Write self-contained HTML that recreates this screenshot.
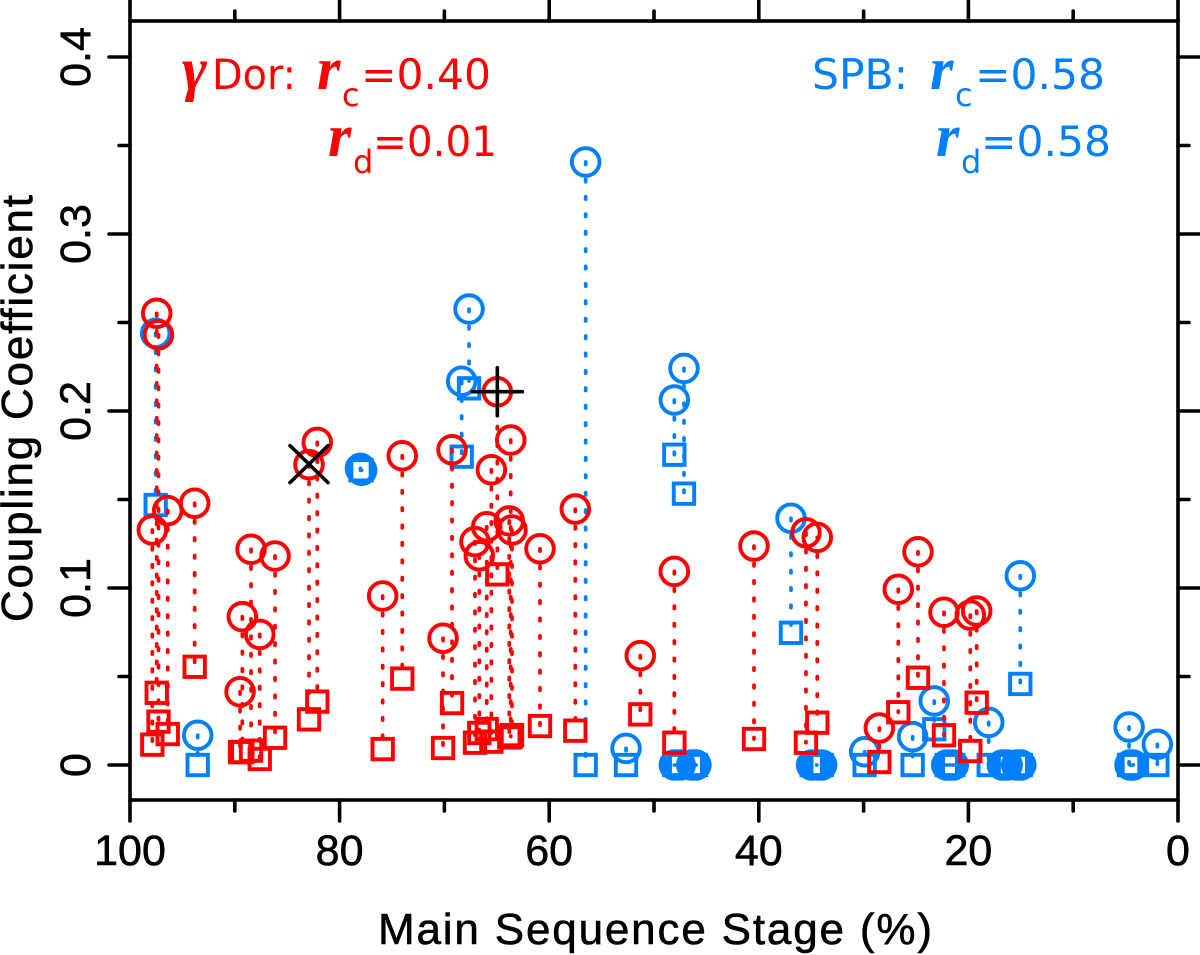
<!DOCTYPE html>
<html lang="en">
<head>
<meta charset="utf-8">
<title>Coupling Coefficient vs Main Sequence Stage</title>
<style>
html,body{margin:0;padding:0;background:#fff;}
svg{display:block;}
text{font-family:"Liberation Sans",sans-serif;}
.rv{font-family:"Liberation Serif",serif;font-style:italic;font-weight:bold;}
.dv{font-family:"DejaVu Sans",sans-serif;}
</style>
</head>
<body>
<svg id="chart" xmlns="http://www.w3.org/2000/svg" width="1200" height="955" viewBox="0 0 1200 955">
  <rect x="0" y="0" width="1200" height="955" fill="#ffffff"/>
  <g id="series"></g>
  <g id="axes"></g>
  <text x="378" y="944" font-size="44" textLength="554" lengthAdjust="spacing" fill="#000" stroke="#000" stroke-width="0.6">Main Sequence Stage (%)</text>
  <text transform="translate(32,622) rotate(-90)" font-size="44" textLength="427" lengthAdjust="spacing" fill="#000" stroke="#000" stroke-width="0.6">Coupling Coefficient</text>

  <g fill="#ff0000">
    <text class="rv" x="182" y="89" font-size="60">γ</text>
    <text class="dv" x="212" y="89" font-size="42" textLength="84" lengthAdjust="spacingAndGlyphs">Dor:</text>
    <text class="rv" x="317" y="89" font-size="60">r</text>
    <text class="dv" x="342" y="106" font-size="32">c</text>
    <text class="dv" x="361" y="89" font-size="42" textLength="130" lengthAdjust="spacingAndGlyphs">=0.40</text>
    <text class="rv" x="328" y="156" font-size="60">r</text>
    <text class="dv" x="353" y="173" font-size="32">d</text>
    <text class="dv" x="373" y="156" font-size="42" textLength="124" lengthAdjust="spacingAndGlyphs">=0.01</text>
  </g>
  <g fill="#0080ff">
    <text class="dv" x="812" y="89" font-size="42" textLength="96" lengthAdjust="spacingAndGlyphs">SPB:</text>
    <text class="rv" x="930" y="89" font-size="60">r</text>
    <text class="dv" x="955" y="106" font-size="32">c</text>
    <text class="dv" x="975" y="89" font-size="42" textLength="130" lengthAdjust="spacingAndGlyphs">=0.58</text>
    <text class="rv" x="936" y="156" font-size="60">r</text>
    <text class="dv" x="961" y="173" font-size="32">d</text>
    <text class="dv" x="981" y="156" font-size="42" textLength="130" lengthAdjust="spacingAndGlyphs">=0.58</text>
  </g>
</svg>
<script>
// Main-sequence stage (%), circle value (rc), square value (rd)
var redStage = [97.45,97.28,97.87,96.40,93.83,88.45,86.16,89.28,87.62,89.50,82.92,82.13,75.89,74.02,70.13,69.27,67.08,66.67,65.96,65.52,64.95,63.81,63.67,63.55,60.88,57.51,51.31,48.06,40.46,35.50,34.42,28.50,26.69,24.81,22.33,19.82,19.21];
var redCircle = [.2552,.2431,.1328,.1437,.1479,.1219,.1181,.0838,.0738,.0414,.1697,.1823,.0955,.1747,.0716,.1781,.1262,.1182,.1346,.1668,.2109,.1379,.1836,.1328,.1222,.1446,.0618,.1094,.1237,.1312,.1286,.0209,.0993,.1205,.0863,.0847,.0870];
var redSquare = [.0408,.0245,.0115,.0175,.0555,.0081,.0154,.0073,.0034,.0073,.0258,.0358,.0090,.0488,.0096,.0350,.0126,.0181,.0203,.0132,.1077,.0156,.0160,.0169,.0220,.0194,.0286,.0126,.0147,.0126,.0239,.0017,.0298,.0493,.0168,.0079,.0352];

var blueStage = [97.55,78.01,77.90,93.54,68.35,67.65,56.52,52.67,48.06,47.50,48.06,47.14,46.40,46.00,36.93,34.96,34.48,34.00,29.90,25.32,23.26,22.07,21.76,21.44,18.06,16.76,16.30,15.39,15.00,15.05,4.67,4.58,4.30,1.97];
var blueCircle = [.2439,.1676,.1665,.0168,.2168,.2576,.3407,.0094,0,0,.2062,.2241,0,0,.1394,0,0,0,.0075,.0160,.0362,0,0,0,.0241,0,0,0,0,.1069,.0215,0,0,.0117];
var blueSquare = [.1469,.1665,.1665,0,.1742,.2128,0,0,0,0,.1753,.1533,0,0,.0747,0,0,0,0,0,.0202,0,0,0,0,0,0,0,0,.0458,0,0,0,0];

var xMarkerPoint = [82.92, .1697];
var plusMarkerPoint = [64.95, .2109];

var xMajorTicks = [100,80,60,40,20,0];
var xMinorTicks = [90,70,50,30,10];
var yMajorTicks = [0,0.1,0.2,0.3,0.4];
var yMinorTicks = [0.05,0.15,0.25,0.35];
var xTickLabels = ["100","80","60","40","20","0"];
var yTickLabels = ["0","0.1","0.2","0.3","0.4"];

var NS = "http://www.w3.org/2000/svg";
var LEFT = 130, RIGHT = 1178, TOP = 21, BOTTOM = 800;
var RED = "#ff0000", BLUE = "#0080ff";

function xScale(v){ return LEFT + (100 - v) * (RIGHT - LEFT) / 100; }
function yScale(v){ return 765 - v * 1770; }

function make(tag, attrs, parent){
  var el = document.createElementNS(NS, tag);
  for (var k in attrs) el.setAttribute(k, attrs[k]);
  parent.appendChild(el);
  return el;
}

var axes = document.getElementById("axes");
var series = document.getElementById("series");

function seriesLayer(prefix, color, stage, circ, sq){
  var i, el;
  for (i = 0; i < stage.length; i++){
    el = make("line", {x1:xScale(stage[i]), x2:xScale(stage[i]), y1:yScale(circ[i]), y2:yScale(sq[i]),
      stroke:color, "stroke-width":3.7, "stroke-linecap":"round", "stroke-dasharray":"2.4 15"}, series);
    
    
  }
  for (i = 0; i < stage.length; i++){
    el = make("circle", {cx:xScale(stage[i]), cy:yScale(circ[i]), r:13.8, fill:"none", stroke:color, "stroke-width":3.9}, series);
    
    
  }
  for (i = 0; i < stage.length; i++){
    el = make("rect", {x:xScale(stage[i]) - 10.2, y:yScale(sq[i]) - 10.2, width:20.4, height:20.4, fill:"none", stroke:color, "stroke-width":3.9}, series);
    
    
  }
}
seriesLayer("spb", BLUE, blueStage, blueCircle, blueSquare);
seriesLayer("gamma-dor", RED, redStage, redCircle, redSquare);

// Special markers
(function(){
  var cx = xScale(xMarkerPoint[0]), cy = yScale(xMarkerPoint[1]);
  var a = make("path", {d:"M"+(cx-19)+" "+(cy-19)+"L"+(cx+19)+" "+(cy+18)+"M"+(cx-19)+" "+(cy+18)+"L"+(cx+19)+" "+(cy-19),
    stroke:"#000", "stroke-width":3.6, fill:"none", "stroke-linecap":"round"}, series);
  
  
  var px = xScale(plusMarkerPoint[0]), py = yScale(plusMarkerPoint[1]);
  var b = make("path", {d:"M"+(px-25)+" "+py+"L"+(px+25)+" "+py+"M"+px+" "+(py-24)+"L"+px+" "+(py+24),
    stroke:"#000", "stroke-width":3.6, fill:"none", "stroke-linecap":"round"}, series);
  
  
})();

// Frame
var frame = make("rect", {x:LEFT, y:TOP, width:RIGHT-LEFT, height:BOTTOM-TOP, fill:"none", stroke:"#000", "stroke-width":3.6}, axes);



function tickLine(x1, y1, x2, y2, name){
  var el = make("line", {x1:x1, y1:y1, x2:x2, y2:y2, stroke:"#000", "stroke-width":3.6, "stroke-linecap":"round"}, axes);
  
  
}
xMajorTicks.forEach(function(v){
  tickLine(xScale(v), BOTTOM, xScale(v), BOTTOM + 21, 'x-major-tick');
  tickLine(xScale(v), TOP, xScale(v), TOP - 20, 'x-top-major-tick');
});
xMinorTicks.forEach(function(v){
  tickLine(xScale(v), BOTTOM, xScale(v), BOTTOM + 11, 'x-minor-tick');
  tickLine(xScale(v), TOP, xScale(v), TOP - 10, 'x-top-minor-tick');
});
yMajorTicks.forEach(function(v){
  tickLine(LEFT, yScale(v), LEFT - 21, yScale(v), 'y-major-tick');
  tickLine(RIGHT, yScale(v), RIGHT + 21, yScale(v), 'y-right-major-tick');
});
yMinorTicks.forEach(function(v){
  tickLine(LEFT, yScale(v), LEFT - 11, yScale(v), 'y-minor-tick');
  tickLine(RIGHT, yScale(v), RIGHT + 11, yScale(v), 'y-right-minor-tick');
});

xMajorTicks.forEach(function(v, i){
  var t = make("text", {x:xScale(v), y:865, "font-size":43, "text-anchor":"middle", fill:"#000", stroke:"#000", "stroke-width":0.6}, axes);
  t.textContent = xTickLabels[i];
  
  
});
yMajorTicks.forEach(function(v, i){
  var t = make("text", {transform:"translate(90,"+yScale(v)+") rotate(-90)", "font-size":43, "text-anchor":"middle", fill:"#000", stroke:"#000", "stroke-width":0.6}, axes);
  t.textContent = yTickLabels[i];
  
  
});
</script>
</body>
</html>
